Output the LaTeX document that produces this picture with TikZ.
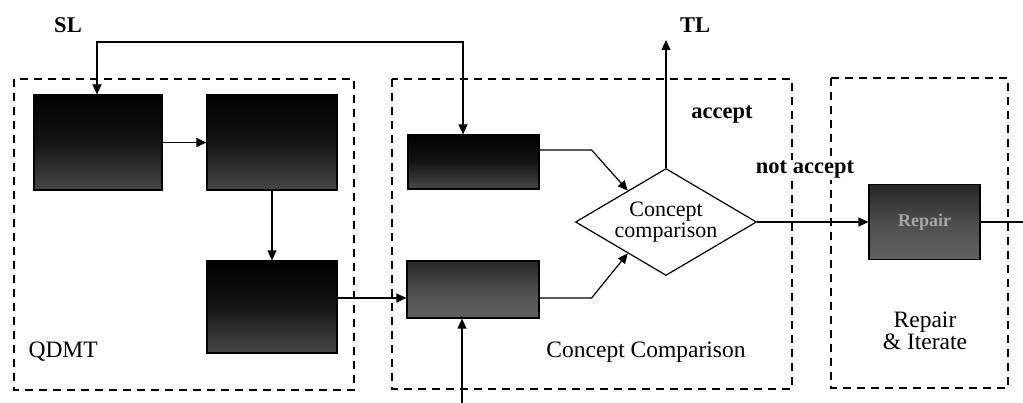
\documentclass[tikz,border=0pt]{standalone}
\usepackage{fontspec}
\setmainfont{Liberation Serif}
\usetikzlibrary{arrows.meta,shapes.geometric,calc}
\begin{document}
\begin{tikzpicture}[x=1pt,y=-1pt,
  every node/.style={font=\fontsize{23.5}{24}\selectfont},
  lbl/.style={font=\fontsize{22.5}{23}\selectfont\bfseries},
  darkbox/.style={draw=black,line width=1.2pt,inner sep=0pt,
    top color=black,bottom color=black!72,middle color=black!92},
  greybox/.style={draw=black,line width=1.2pt,inner sep=0pt,
    top color=black!85,bottom color=black!62,middle color=black!70},
  frame/.style={line width=1.4pt,dash pattern=on 8pt off 6pt},
  conn/.style={line width=1.2pt},
  arr/.style={conn,-{Triangle[length=10pt,width=9pt]}},
  biarr/.style={conn,{Triangle[length=10pt,width=9pt]}-{Triangle[length=10pt,width=9pt]}}
]
\useasboundingbox (0,0) rectangle (1023,403);

% grouping frames
\draw[frame] (14,79) rectangle (354,390);
\draw[frame] (392,79) rectangle (792,389);
\draw[frame] (831,78) rectangle (1008,388);

% QDMT stage
\node[darkbox,minimum width=128pt,minimum height=95pt] (A) at (98,142.5) {};
\node[darkbox,minimum width=130pt,minimum height=95pt] (B) at (272,142.5) {};
\node[darkbox,minimum width=130pt,minimum height=92pt] (C) at (272,307) {};

% concept comparison stage
\node[darkbox,minimum width=131pt,minimum height=54pt] (D) at (473.5,162) {};
\node[greybox,minimum width=132pt,minimum height=57pt] (E) at (473,289.5) {};
\node[draw,shape=diamond,line width=1.2pt,aspect=1.69,inner sep=0pt,
      minimum width=181pt,minimum height=107pt,align=center,
      font=\fontsize{22}{22}\selectfont] (dia) at (666,222) {Concept\\[-1pt]comparison};

% repair stage
\node[greybox,minimum width=111pt,minimum height=75pt,
      font=\fontsize{18}{18}\selectfont\bfseries,text=black!35] (F) at (924.5,222) {Repair};

% labels
\node[lbl] (sl) at (68,25) {SL};
\node[lbl] (tl) at (695,25) {TL};
\node[lbl] (acc) at (722,115) {accept};
\node[lbl,fill=white,inner sep=1pt] (nacc) at (805,170) {not accept};
\node[anchor=west] (qdmt) at (25,352) {QDMT};
\node (cc) at (646,352) {Concept Comparison};
\node[align=center] (ri) at (925,331) {Repair\\[-2pt]\& Iterate};

% free ends
\coordinate (slL) at (97,42);
\coordinate (slR) at (463,42);
\coordinate (tlEnd) at (666,40);
\coordinate (bin) at (462,403);
\coordinate (out) at (1023,222);

% connectors
\draw[biarr] (slL |- A.north) -- (slL) -- (slR) -- (slR |- D.north);
\draw[arr] (A.east) -- (B.west);
\draw[arr] (B.south) -- (C.north);
\draw[arr] ([yshift=9pt]C.east) -- ([yshift=-8.5pt]E.west);
\draw[arr] (bin) -- (bin |- E.south);
\draw[arr] ([yshift=12pt]D.east) -- ++(52,0) -- ($(dia.west)!0.58!(dia.north)$);
\draw[arr] ([yshift=-8.5pt]E.east) -- ++(52,0) -- ($(dia.west)!0.58!(dia.south)$);
\draw[arr] (dia.north) -- (tlEnd);
\draw[arr] (dia.east) -- (F.west);
\draw[conn] (F.east) -- (out);
\end{tikzpicture}
\end{document}
